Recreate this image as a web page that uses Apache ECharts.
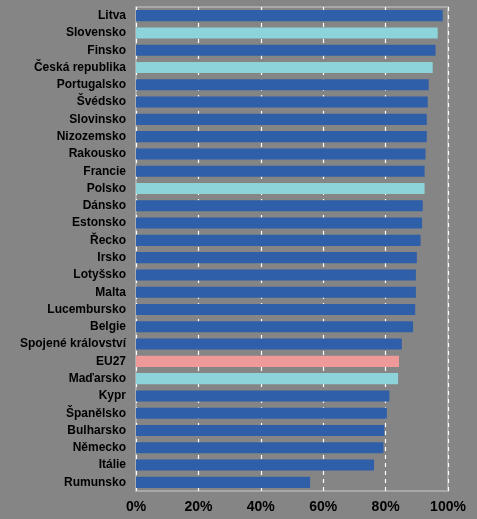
<!DOCTYPE html>
<html>
<head>
<meta charset="utf-8">
<script src="https://cdn.jsdelivr.net/npm/echarts@6/dist/echarts.min.js"></script>
<style>html,body{margin:0;padding:0;background:#858585;}#c{width:477px;height:519px;}</style>
</head>
<body>
<div id="c"></div>
<script>
const categories = ["Litva","Slovensko","Finsko","Česká republika","Portugalsko","Švédsko","Slovinsko","Nizozemsko","Rakousko","Francie","Polsko","Dánsko","Estonsko","Řecko","Irsko","Lotyšsko","Malta","Lucembursko","Belgie","Spojené království","EU27","Maďarsko","Kypr","Španělsko","Bulharsko","Německo","Itálie","Rumunsko"];
const values = [98.3,96.7,96.0,95.1,93.8,93.5,93.2,93.2,92.8,92.5,92.5,91.9,91.7,91.2,90.0,89.7,89.7,89.5,88.8,85.2,84.3,84.0,81.2,80.4,79.6,79.3,76.3,55.8];
const highlightCyan = ["Slovensko","Česká republika","Polsko","Maďarsko"];
const highlightPink = ["EU27"];
const xTicks = [0,20,40,60,80,100];

const data = categories.map((c,i)=>({
  value: values[i],
  itemStyle: {color: highlightPink.includes(c) ? '#ef9a9a' : (highlightCyan.includes(c) ? '#8cd3da' : '#2e5fa8')}
}));

const chart = echarts.init(document.getElementById('c'));
chart.setOption({
  backgroundColor: '#858585',
  animation: false,
  grid: {left: 136, right: 29, top: 7, bottom: 28, show: true, borderColor: '#a8a8a8', borderWidth: 2, backgroundColor: 'transparent'},
  xAxis: {
    type: 'value', min: 0, max: 100, interval: 20,
    axisLine: {show: false}, axisTick: {show: false},
    axisLabel: {formatter: v => xTicks.includes(v) ? v + '%' : '', color: '#000', fontWeight: 'bold', fontSize: 14, fontFamily: 'Liberation Sans, Arial', margin: 9},
    splitLine: {show: true, lineStyle: {color: '#ffffff', type: [4,4], width: 1.2}}
  },
  yAxis: {
    type: 'category', data: categories, inverse: true,
    axisLine: {show: false}, axisTick: {show: false},
    axisLabel: {color: '#000', fontWeight: 'bold', fontSize: 12, fontFamily: 'Liberation Sans, Arial', margin: 10, interval: 0}
  },
  series: [{type: 'bar', data: data, barWidth: '64%'}]
});
</script>
</body>
</html>
